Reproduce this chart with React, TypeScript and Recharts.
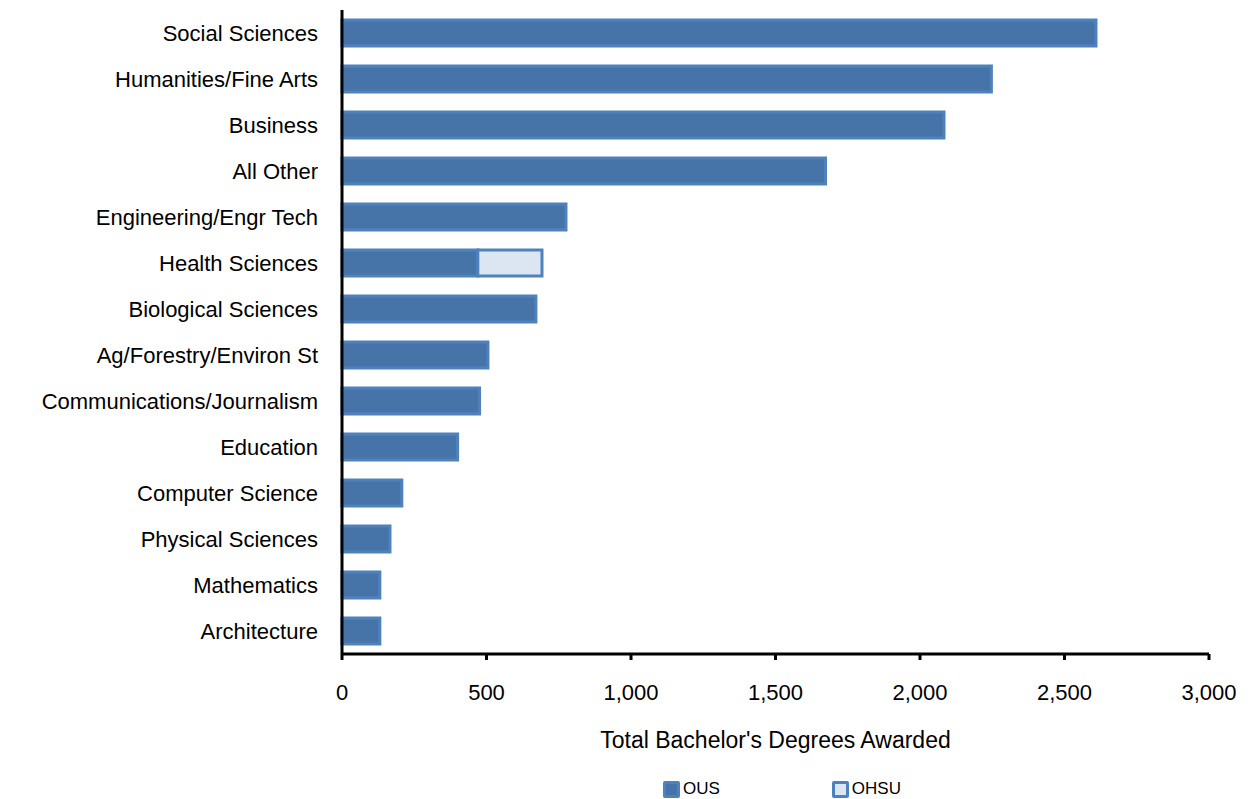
import React from 'react';
import { BarChart, Bar, XAxis, YAxis, Legend } from 'recharts';

// categories top to bottom
const categories = [
  'Social Sciences',
  'Humanities/Fine Arts',
  'Business',
  'All Other',
  'Engineering/Engr Tech',
  'Health Sciences',
  'Biological Sciences',
  'Ag/Forestry/Environ St',
  'Communications/Journalism',
  'Education',
  'Computer Science',
  'Physical Sciences',
  'Mathematics',
  'Architecture',
];
const ousValues = [2609, 2247, 2083, 1673, 775, 470, 671, 505, 476, 400, 207, 166, 131, 131];
const ohsuValues = [0, 0, 0, 0, 0, 222, 0, 0, 0, 0, 0, 0, 0, 0];
const xTicks = [0, 500, 1000, 1500, 2000, 2500, 3000];

const data = categories.map((name, i) => ({ name, OUS: ousValues[i], OHSU: ohsuValues[i] }));

const FONT = '"Liberation Sans", Arial, sans-serif';
const EDGE = '#4F81BD';

const LegendBox = () => (
  <div style={{ display: 'flex', fontFamily: FONT, fontSize: 17, color: '#000' }}>
    <span style={{ display: 'flex', alignItems: 'center', marginRight: 112 }}>
      <span style={{ width: 11, height: 11, background: '#4674A8', border: `3px solid ${EDGE}`, borderRadius: 2, marginRight: 3 }} />
      OUS
    </span>
    <span style={{ display: 'flex', alignItems: 'center' }}>
      <span style={{ width: 11, height: 11, background: '#DCE6F2', border: `3px solid ${EDGE}`, borderRadius: 2, marginRight: 3 }} />
      OHSU
    </span>
  </div>
);

export default function App() {
  return (
    <div style={{ position: 'absolute', left: 0, top: 0, width: 1250, height: 799, background: '#fff' }}>
      <BarChart
        width={1250}
        height={799}
        layout="vertical"
        data={data}
        margin={{ top: 10, right: 41, bottom: 0, left: 0 }}
        barSize={26}
      >
        <XAxis
          type="number"
          domain={[0, 3000]}
          ticks={xTicks}
          interval={0}
          height={145}
          tickFormatter={(v: number) => v.toLocaleString('en-US')}
          axisLine={{ stroke: '#000', strokeWidth: 3 }}
          tickLine={{ stroke: '#000', strokeWidth: 3 }}
          tickSize={6}
          tick={{ fill: '#000', fontSize: 22, fontFamily: FONT, dy: 22 }}
          label={{ value: "Total Bachelor's Degrees Awarded", position: 'insideTop', offset: 78, fill: '#000', fontSize: 23, fontFamily: FONT }}
        />
        <YAxis
          type="category"
          dataKey="name"
          width={342}
          interval={0}
          axisLine={{ stroke: '#000', strokeWidth: 3 }}
          tickLine={false}
          tickMargin={18}
          tick={{ fill: '#000', fontSize: 22, fontFamily: FONT }}
        />
        <Legend
          verticalAlign="middle"
          content={() => <LegendBox />}
          wrapperStyle={{ top: 779, left: 663, width: 'auto' }}
        />
        <Bar dataKey="OUS" stackId="a" fill="#4674A8" stroke={EDGE} strokeWidth={3} isAnimationActive={false} />
        <Bar dataKey="OHSU" stackId="a" fill="#DCE6F2" stroke={EDGE} strokeWidth={3} isAnimationActive={false} />
      </BarChart>
    </div>
  );
}
